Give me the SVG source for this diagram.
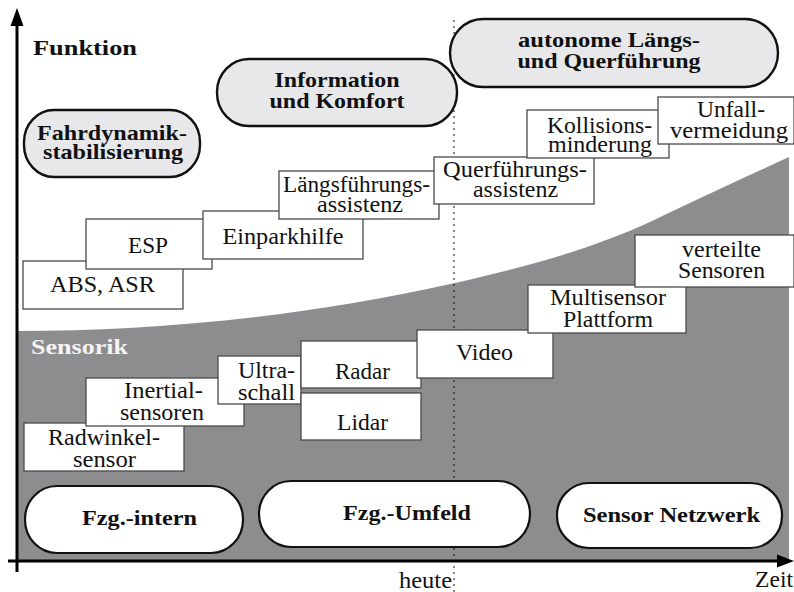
<svg xmlns="http://www.w3.org/2000/svg" width="794" height="592" viewBox="0 0 794 592" font-family="'Liberation Serif', Tinos, 'Times New Roman', Times, 'Nimbus Roman', FreeSerif, serif">
  <defs>
    <style>
      .box { fill: #ffffff; stroke: #4a4a4a; stroke-width: 1.3; }
      .fpill { fill: #e8e8ea; stroke: #111111; stroke-width: 2.4; }
      .spill { fill: #ffffff; stroke: #111111; stroke-width: 2.2; }
      .t { font-family: 'Liberation Serif', Tinos, 'Times New Roman', Times, 'Nimbus Roman', FreeSerif, serif; font-size: 23px; fill: #111111; text-anchor: middle; }
      .b { font-family: 'Liberation Serif', Tinos, 'Times New Roman', Times, 'Nimbus Roman', FreeSerif, serif; font-size: 22px; font-weight: bold; fill: #111111; text-anchor: middle; }
      .axis { stroke: #000000; stroke-width: 3; fill: none; }
    </style>
  </defs>

  <rect width="794" height="592" fill="#ffffff"/>

  <!-- sensor area below the growth curve -->
  <path id="sensor-area" d="M17,331 C150,331 300,318 455,283 C540,264 600,245 650,222 C700,198 750,175 789,157 L789,561 L17,561 Z" fill="#8d8d8f"/>

  <!-- "today" marker -->
  <line x1="454" y1="20" x2="454" y2="592" stroke="#111111" stroke-width="1" stroke-dasharray="2,4"/>

  <text x="33" y="55" class="b" style="text-anchor:start" textLength="104" lengthAdjust="spacingAndGlyphs">Funktion</text>
  <text x="31" y="354" class="b" style="text-anchor:start;fill:#f4f4f4" textLength="97" lengthAdjust="spacingAndGlyphs">Sensorik</text>

  <!-- function categories -->
  <g id="fahrdynamik">
    <rect x="24" y="110" width="176" height="67" rx="30" ry="32" class="fpill"/>
    <text x="112" y="140" class="b" textLength="150" lengthAdjust="spacingAndGlyphs">Fahrdynamik-</text>
    <text x="113" y="159" class="b" textLength="140" lengthAdjust="spacingAndGlyphs">stabilisierung</text>
  </g>
  <g id="information">
    <rect x="217" y="59" width="240" height="67" rx="32" ry="33" class="fpill"/>
    <text x="337" y="87" class="b" textLength="125" lengthAdjust="spacingAndGlyphs">Information</text>
    <text x="337" y="108" class="b" textLength="135" lengthAdjust="spacingAndGlyphs">und Komfort</text>
  </g>
  <g id="autonom">
    <rect x="450" y="19" width="328" height="68" rx="33" ry="34" class="fpill"/>
    <text x="609" y="47" class="b" textLength="182" lengthAdjust="spacingAndGlyphs">autonome Längs-</text>
    <text x="609" y="68" class="b" textLength="183" lengthAdjust="spacingAndGlyphs">und Querführung</text>
  </g>

  <!-- function steps -->
  <g id="abs">
    <rect x="23" y="261" width="160" height="48" class="box"/>
    <text x="102.5" y="292" class="t" textLength="105" lengthAdjust="spacingAndGlyphs">ABS, ASR</text>
  </g>
  <g id="esp">
    <rect x="86" y="219" width="126" height="50" class="box"/>
    <text x="148" y="253" class="t" textLength="40" lengthAdjust="spacingAndGlyphs">ESP</text>
  </g>
  <g id="einparkhilfe">
    <rect x="203" y="211" width="160" height="48" class="box"/>
    <text x="283" y="244" class="t" textLength="121" lengthAdjust="spacingAndGlyphs">Einparkhilfe</text>
  </g>
  <g id="laengsfuehrung">
    <rect x="279" y="171" width="160" height="48" class="box"/>
    <text x="356.5" y="192" class="t" textLength="147" lengthAdjust="spacingAndGlyphs">Längsführungs-</text>
    <text x="360" y="212" class="t" textLength="86" lengthAdjust="spacingAndGlyphs">assistenz</text>
  </g>
  <g id="querfuehrung">
    <rect x="434" y="157" width="160" height="47" class="box"/>
    <text x="515" y="177" class="t" textLength="144" lengthAdjust="spacingAndGlyphs">Querführungs-</text>
    <text x="515.5" y="197" class="t" textLength="85" lengthAdjust="spacingAndGlyphs">assistenz</text>
  </g>
  <g id="kollision">
    <rect x="527" y="110" width="142" height="48" class="box"/>
    <text x="599.5" y="133" class="t" textLength="105" lengthAdjust="spacingAndGlyphs">Kollisions-</text>
    <text x="600" y="152" class="t" textLength="104" lengthAdjust="spacingAndGlyphs">minderung</text>
  </g>
  <g id="unfall">
    <rect x="658" y="97" width="136" height="47" class="box"/>
    <text x="731" y="117" class="t" textLength="68" lengthAdjust="spacingAndGlyphs">Unfall-</text>
    <text x="729" y="138" class="t" textLength="118" lengthAdjust="spacingAndGlyphs">vermeidung</text>
  </g>

  <!-- sensor steps -->
  <g id="radwinkel">
    <rect x="24" y="423" width="160" height="48" class="box"/>
    <text x="104" y="445" class="t" textLength="112" lengthAdjust="spacingAndGlyphs">Radwinkel-</text>
    <text x="104.5" y="467" class="t" textLength="63" lengthAdjust="spacingAndGlyphs">sensor</text>
  </g>
  <g id="inertial">
    <rect x="86" y="378" width="158" height="48" class="box"/>
    <text x="163.5" y="398" class="t" textLength="79" lengthAdjust="spacingAndGlyphs">Inertial-</text>
    <text x="162" y="420" class="t" textLength="84" lengthAdjust="spacingAndGlyphs">sensoren</text>
  </g>
  <g id="ultraschall">
    <rect x="218" y="356" width="83" height="48" class="box"/>
    <text x="266.5" y="378" class="t" textLength="57" lengthAdjust="spacingAndGlyphs">Ultra-</text>
    <text x="266.5" y="400" class="t" textLength="57" lengthAdjust="spacingAndGlyphs">schall</text>
  </g>
  <g id="radar">
    <rect x="301" y="341" width="120" height="47" class="box"/>
    <text x="362.5" y="379" class="t" textLength="55" lengthAdjust="spacingAndGlyphs">Radar</text>
  </g>
  <g id="lidar">
    <rect x="301" y="393" width="120" height="47" class="box"/>
    <text x="362.5" y="430" class="t" textLength="51" lengthAdjust="spacingAndGlyphs">Lidar</text>
  </g>
  <g id="video">
    <rect x="417" y="330" width="136" height="48" class="box"/>
    <text x="484.5" y="360" class="t" textLength="57" lengthAdjust="spacingAndGlyphs">Video</text>
  </g>
  <g id="multisensor">
    <rect x="528" y="285" width="158" height="48" class="box"/>
    <text x="608" y="305" class="t" textLength="116" lengthAdjust="spacingAndGlyphs">Multisensor</text>
    <text x="608" y="327" class="t" textLength="90" lengthAdjust="spacingAndGlyphs">Plattform</text>
  </g>
  <g id="verteilt">
    <rect x="635" y="235" width="159" height="52" class="box"/>
    <text x="721.5" y="257" class="t" textLength="79" lengthAdjust="spacingAndGlyphs">verteilte</text>
    <text x="721.5" y="278" class="t" textLength="87" lengthAdjust="spacingAndGlyphs">Sensoren</text>
  </g>

  <!-- sensor categories -->
  <g id="intern">
    <rect x="25" y="486" width="218" height="67" rx="32" ry="33" class="spill"/>
    <text x="139.5" y="525" class="b" textLength="115" lengthAdjust="spacingAndGlyphs">Fzg.-intern</text>
  </g>
  <g id="umfeld">
    <rect x="259" y="481" width="271" height="66" rx="32" ry="33" class="spill"/>
    <text x="407" y="520" class="b" textLength="128" lengthAdjust="spacingAndGlyphs">Fzg.-Umfeld</text>
  </g>
  <g id="netzwerk">
    <rect x="557" y="483" width="225" height="65" rx="32" ry="32" class="spill"/>
    <text x="671.5" y="522" class="b" textLength="177" lengthAdjust="spacingAndGlyphs">Sensor Netzwerk</text>
  </g>

  <!-- axes -->
  <g id="connectors">
    <line x1="17" y1="22" x2="17" y2="572" class="axis"/>
    <polygon points="17,8 10.5,26 23.5,26" fill="#000000"/>
    <line x1="8" y1="561" x2="780" y2="561" class="axis"/>
    <polygon points="794,561 777,554.5 777,567.5" fill="#000000"/>
  </g>

  <text x="425.5" y="588" class="t" textLength="53" lengthAdjust="spacingAndGlyphs">heute</text>
  <text x="755" y="587" class="t" style="text-anchor:start" textLength="38" lengthAdjust="spacingAndGlyphs">Zeit</text>
</svg>
